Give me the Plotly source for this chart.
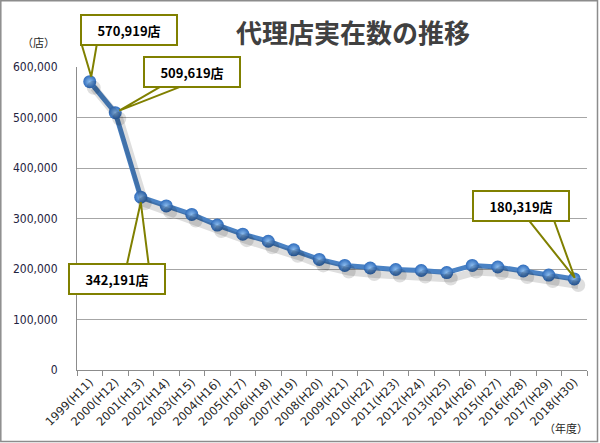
import plotly.graph_objects as go

years = ["1999(H11)", "2000(H12)", "2001(H13)", "2002(H14)", "2003(H15)", "2004(H16)",
         "2005(H17)", "2006(H18)", "2007(H19)", "2008(H20)", "2009(H21)", "2010(H22)",
         "2011(H23)", "2012(H24)", "2013(H25)", "2014(H26)", "2015(H27)", "2016(H28)",
         "2017(H29)", "2018(H30)"]
agents = [570919, 509619, 342191, 325000, 308000, 287000,
          269000, 255000, 238000, 219000, 207000, 202000,
          199000, 197000, 193000, 207000, 204000, 196000,
          188000, 180319]
y_max = 600000
y_step = 100000

title_text = "代理店実在数の推移"
y_unit = "（店）"
x_unit = "（年度）"

# callouts: (index, label, xshift, yshift, wedge offsets in px: base1, base2, tip)
callouts = [
    (0, "570,919店", 39, 52, [(-8, 37), (7, 37), (1.5, 5)]),
    (1, "509,619店", 77, 41, [(47, 27), (68, 27), (4, 2)]),
    (2, "342,191店", -24, -82, [(-14, -68), (8, -68), (0, -5)]),
    (19, "180,319店", -53, 73, [(-45, 58), (-20, 58), (0.5, 1)]),
]

W, H = 600, 443
L, R, T, B = 77, 13, 67, 73
pw, ph = W - L - R, H - T - B
n = len(years)

fig = go.Figure()

# soft shadow of line (drawn on offset overlay axes)
fig.add_trace(go.Scatter(
    x=list(range(n)), y=agents, xaxis="x2", yaxis="y2",
    mode="lines+markers",
    line=dict(color="rgba(0,0,0,0.13)", width=8),
    marker=dict(size=14, color="rgba(0,0,0,0.13)"),
    hoverinfo="skip", showlegend=False))

fig.add_trace(go.Scatter(
    x=years, y=agents, mode="lines+markers",
    line=dict(color="#4a82c4", width=5),
    marker=dict(size=13, color="#2f6cbc",
                gradient=dict(type="radial", color="#8dbdee"),
                line=dict(width=0)),
    showlegend=False))


def px2paper_x(px):
    return (px - L) / pw


def px2paper_y(py):
    return (H - B - py) / ph


shapes = [dict(type="rect", xref="paper", yref="paper",
               x0=px2paper_x(0.8), x1=px2paper_x(597.5),
               y0=px2paper_y(441.5), y1=px2paper_y(0.8),
               line=dict(color="#8c8c8c", width=1.5), layer="below")]

annotations = []
for idx, label, xs, ys, pts in callouts:
    path = "M {} {} L {} {} L {} {} Z".format(pts[0][0], pts[0][1], pts[2][0], pts[2][1],
                                              pts[1][0], pts[1][1])
    shapes.append(dict(type="path", xref="paper", yref="paper",
                       xsizemode="pixel", ysizemode="pixel",
                       xanchor=(idx + 0.5) / n, yanchor=agents[idx] / y_max,
                       path=path, fillcolor="white",
                       line=dict(color="#808000", width=2), layer="above"))
    annotations.append(dict(x=years[idx], y=agents[idx], xref="x", yref="y",
                            text="<b>" + label + "</b>", showarrow=False,
                            xshift=xs, yshift=ys, xanchor="center", yanchor="middle",
                            width=90, height=24, borderpad=2, borderwidth=2,
                            bordercolor="#808000", bgcolor="white",
                            font=dict(family="Noto Sans CJK JP", size=13, color="#000000")))

annotations.append(dict(x=px2paper_x(352.5), y=px2paper_y(31.5), xref="paper", yref="paper",
                        text="<b>" + title_text + "</b>", showarrow=False,
                        xanchor="center", yanchor="middle",
                        font=dict(family="Noto Sans CJK JP", size=26, color="#404040")))
annotations.append(dict(x=px2paper_x(38), y=px2paper_y(42), xref="paper", yref="paper",
                        text=y_unit, showarrow=False, xanchor="center", yanchor="middle",
                        font=dict(family="Noto Sans CJK JP", size=11, color="#262626")))
annotations.append(dict(x=px2paper_x(566), y=px2paper_y(428), xref="paper", yref="paper",
                        text=x_unit, showarrow=False, xanchor="center", yanchor="middle",
                        font=dict(family="Noto Sans CJK JP", size=11, color="#262626")))

dx = 4.0 / (pw / n)
dy = 6.0 / ph * y_max

fig.update_layout(
    width=W, height=H, margin=dict(l=L, r=R, t=T, b=B, autoexpand=False),
    paper_bgcolor="white", plot_bgcolor="white",
    xaxis=dict(type="category", range=[-0.5, n - 0.5], tickangle=-45,
               ticks="outside", ticklen=5, tickcolor="#8c8c8c", tickson="boundaries",
               showline=True, linecolor="#8c8c8c", linewidth=1, showgrid=False,
               automargin=False,
               tickfont=dict(family="DejaVu Sans", size=11.5, color="#262626")),
    yaxis=dict(range=[0, y_max], dtick=y_step, tickformat=",",
               showgrid=True, gridcolor="#a6a6a6", gridwidth=1,
               showline=True, linecolor="#8c8c8c", linewidth=1, zeroline=False,
               ticks="", ticklabelstandoff=16, automargin=False,
               tickfont=dict(family="DejaVu Sans Condensed", size=12, color="#1f2340")),
    xaxis2=dict(overlaying="x", range=[-0.5 - dx, n - 0.5 - dx], visible=False),
    yaxis2=dict(overlaying="y", range=[dy, y_max + dy], visible=False),
    shapes=shapes, annotations=annotations,
)

fig.write_html("out.html", config={"displayModeBar": False},
               post_script="document.body.style.margin='0';")
